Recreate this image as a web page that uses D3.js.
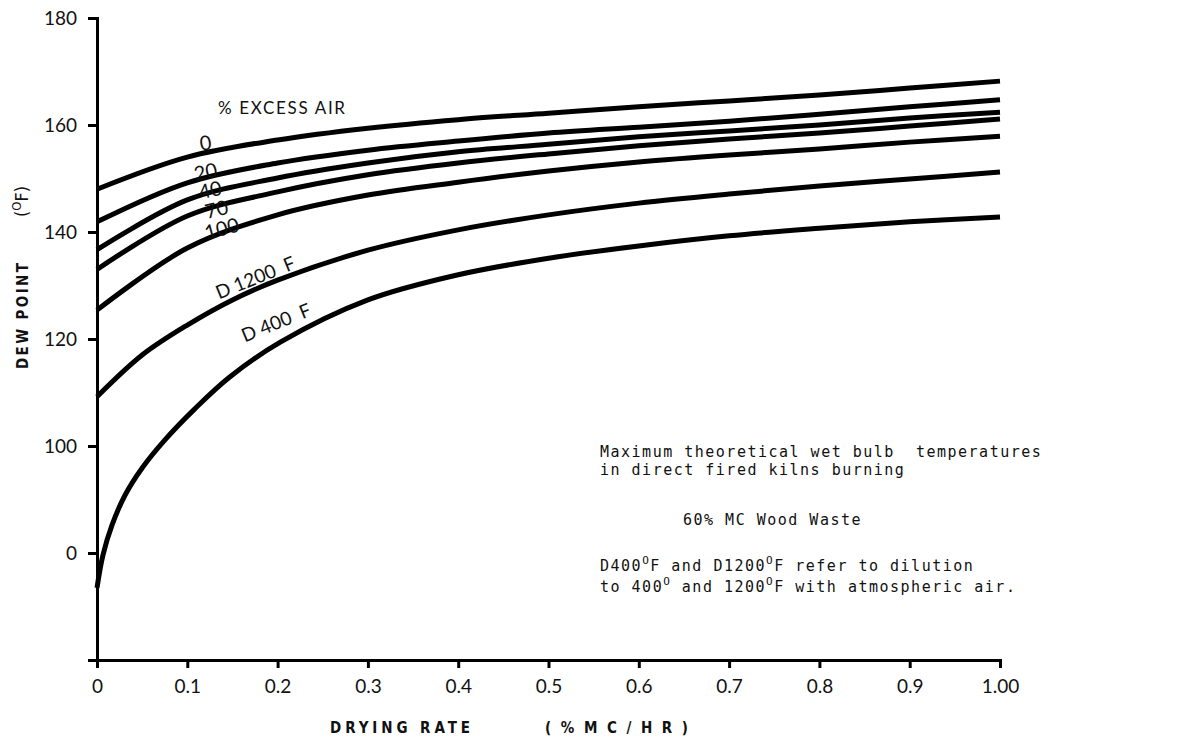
<!DOCTYPE html>
<html>
<head>
<meta charset="utf-8">
<script src="https://cdn.jsdelivr.net/npm/d3@7"></script>
<style>
  body { margin: 0; background: #fff; }
  svg { display: block; }
  .tick text { font-family: Lato, "Open Sans", sans-serif; font-size: 19px; fill: #111; }
  .axis-title { font-family: "DejaVu Sans Condensed", "DejaVu Sans", sans-serif; font-weight: bold; font-size: 15px; fill: #111; }
  .note { font-family: "DejaVu Sans Mono", "Liberation Mono", monospace; font-size: 15px; fill: #111; letter-spacing: 1.5px; }
  .curve-label { font-family: Lato, "Open Sans", sans-serif; font-size: 19px; fill: #111; }
</style>
</head>
<body>
<div id="chart"></div>
<script>
// x: drying rate (%MC/hr), y: dew point (F)
const xTicks = [0, 0.1, 0.2, 0.3, 0.4, 0.5, 0.6, 0.7, 0.8, 0.9, 1.0];
const xTickLabels = ['0', '0.1', '0.2', '0.3', '0.4', '0.5', '0.6', '0.7', '0.8', '0.9', '1.00'];
const yTicks = [180, 160, 140, 120, 100, 80];
const yTickLabels = ['180', '160', '140', '120', '100', '0'];

const rates = [0, 0.1, 0.2, 0.3, 0.4, 0.5, 0.6, 0.7, 0.8, 0.9, 1.0];
const air0   = [148.0, 154.0, 157.2, 159.4, 161.0, 162.2, 163.4, 164.5, 165.6, 166.9, 168.2];
const air20  = [141.9, 149.2, 152.9, 155.3, 157.0, 158.5, 159.6, 160.7, 162.0, 163.4, 164.7];
const air40  = [136.7, 146.0, 150.1, 152.9, 155.0, 156.4, 157.8, 158.9, 160.0, 161.3, 162.4];
const air70  = [133.0, 143.0, 147.5, 150.7, 152.9, 154.6, 156.1, 157.4, 158.5, 159.8, 161.1];
const air100 = [125.4, 137.0, 143.2, 146.9, 149.3, 151.4, 153.1, 154.4, 155.5, 156.8, 157.9];

const d1200Rates = [0, 0.05, 0.1, 0.15, 0.2, 0.3, 0.4, 0.5, 0.6, 0.7, 0.8, 0.9, 1.0];
const d1200 = [109.2, 117.0, 122.6, 127.3, 131.0, 136.6, 140.4, 143.2, 145.4, 147.1, 148.6, 149.9, 151.2];

const d400Rates = [0, 0.0066, 0.0166, 0.031, 0.05, 0.075, 0.108, 0.147, 0.203, 0.3, 0.4, 0.5, 0.6, 0.7, 0.8, 0.9, 1.0];
const d400 = [73.5, 79.6, 85.2, 90.8, 95.9, 101.1, 106.9, 112.9, 119.4, 127.3, 132.0, 135.1, 137.4, 139.3, 140.7, 141.9, 142.8];

const series = [
  { name: '0', x: rates, y: air0 },
  { name: '20', x: rates, y: air20 },
  { name: '40', x: rates, y: air40 },
  { name: '70', x: rates, y: air70 },
  { name: '100', x: rates, y: air100 },
  { name: 'D 1200 F', x: d1200Rates, y: d1200 },
  { name: 'D 400 F', x: d400Rates, y: d400 },
];

const width = 1199;
const height = 746;

const svg = d3.select('#chart')
  .append('svg')
  .attr('width', width)
  .attr('height', height);

const xScale = d3.scaleLinear().domain([0, 1]).range([97, 1000]);
const yScale = d3.scaleLinear().domain([60, 180]).range([660, 18]);

// curves
const line = d3.line()
  .x((d) => xScale(d[0]))
  .y((d) => yScale(d[1]))
  .curve(d3.curveCatmullRom.alpha(0.5));

svg.append('g')
  .attr('class', 'curves')
  .selectAll('path')
  .data(series)
  .join('path')
  .attr('d', (s) => line(s.x.map((x, i) => [x, s.y[i]])))
  .attr('fill', 'none')
  .attr('stroke', '#000')
  .attr('stroke-width', 5);

// axes
const xAxis = d3.axisBottom(xScale)
  .tickValues(xTicks)
  .tickFormat((d, i) => xTickLabels[i])
  .tickSize(8)
  .tickPadding(12);

const yAxis = d3.axisLeft(yScale)
  .tickValues(yTicks)
  .tickFormat((d, i) => yTickLabels[i])
  .tickSize(9)
  .tickPadding(11);

const gx = svg.append('g')
  .attr('transform', `translate(0, ${yScale(60)})`)
  .call(xAxis);

const gy = svg.append('g')
  .attr('transform', `translate(${xScale(0)}, 0)`)
  .call(yAxis);

for (const g of [gx, gy]) {
  g.select('.domain').attr('stroke', '#000').attr('stroke-width', 3);
  g.selectAll('.tick line').attr('stroke', '#000').attr('stroke-width', 3);
  g.selectAll('.tick text').attr('fill', '#111');
}
gx.selectAll('.tick text').attr('dy', '0.71em');

// axis titles
svg.append('text')
  .attr('class', 'axis-title')
  .attr('x', 330).attr('y', 733)
  .attr('textLength', 140).attr('lengthAdjust', 'spacing')
  .text('DRYING RATE');
svg.append('text')
  .attr('class', 'axis-title')
  .attr('x', 545).attr('y', 733)
  .attr('textLength', 143).attr('lengthAdjust', 'spacing')
  .text('(%MC/HR)');

svg.append('text')
  .attr('class', 'axis-title')
  .attr('transform', 'translate(28, 369) rotate(-90)')
  .attr('textLength', 106).attr('lengthAdjust', 'spacing')
  .text('DEW POINT');

const unit = svg.append('text')
  .attr('class', 'axis-title')
  .attr('transform', 'translate(28, 217) rotate(-90)')
  .style('font-weight', 'normal')
  .style('font-size', '18px');
unit.append('tspan').text('(');
unit.append('tspan').attr('dy', -7).style('font-size', '13px').text('O');
unit.append('tspan').attr('dy', 7).text('F)');

// curve labels
const labels = [
  { text: '% EXCESS AIR', x: 0.134, y: 163.2, angle: 0, size: 17, len: 127 },
  { text: '0', x: 0.12, y: 156.8, angle: -8, size: 20 },
  { text: '20', x: 0.12, y: 151.4, angle: -12, size: 20 },
  { text: '40', x: 0.125, y: 148.0, angle: -13, size: 20 },
  { text: '70', x: 0.132, y: 144.4, angle: -14, size: 20 },
  { text: '100', x: 0.138, y: 140.8, angle: -15, size: 20 },
  { text: 'D 1200  F', x: 0.175, y: 131.6, angle: -22, size: 19 },
  { text: 'D 400  F', x: 0.198, y: 123.2, angle: -22, size: 19 },
];

svg.append('g')
  .selectAll('text')
  .data(labels)
  .join('text')
  .attr('class', 'curve-label')
  .attr('text-anchor', (d) => d.angle === 0 ? 'start' : 'middle')
  .attr('dominant-baseline', 'central')
  .attr('transform', (d) => `translate(${xScale(d.x)}, ${yScale(d.y)}) rotate(${d.angle})`)
  .attr('textLength', (d) => d.len || null)
  .attr('lengthAdjust', 'spacing')
  .style('font-size', (d) => d.size + 'px')
  .style('white-space', 'pre')
  .text((d) => d.text);

// annotation
const note = svg.append('g').attr('class', 'note-block');
function noteLine(x, y, parts) {
  const t = note.append('text').attr('class', 'note').attr('x', x).attr('y', y).style('white-space', 'pre');
  let lift = 0;
  for (const p of parts) {
    if (typeof p === 'string') {
      t.append('tspan').attr('dy', lift).text(p);
      lift = 0;
    } else {
      t.append('tspan').attr('dy', -7).style('font-size', '11px').text(p.sup);
      lift = 7;
    }
  }
}
noteLine(600, 457, ['Maximum theoretical wet bulb  temperatures']);
noteLine(600, 475, ['in direct fired kilns burning']);
noteLine(683, 525, ['60% MC Wood Waste']);
noteLine(600, 571, ['D400', { sup: 'O' }, 'F and D1200', { sup: 'O' }, 'F refer to dilution']);
noteLine(600, 592, ['to 400', { sup: 'O' }, ' and 1200', { sup: 'O' }, 'F with atmospheric air.']);
</script>
</body>
</html>
